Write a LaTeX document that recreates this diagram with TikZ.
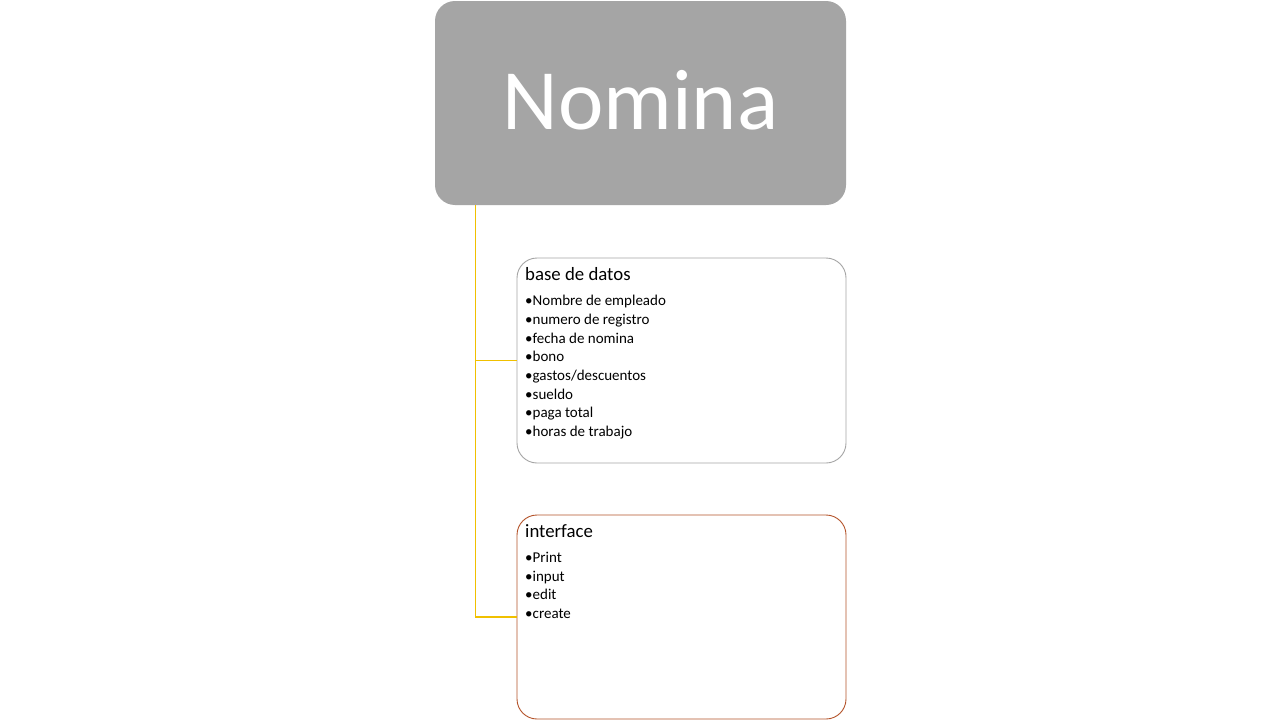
\documentclass[tikz,border=0pt]{standalone}
\usepackage{fontspec}
\setmainfont{Carlito}
\definecolor{maingray}{HTML}{A5A5A5}
\definecolor{linegold}{HTML}{F0C000}
\definecolor{boxgray}{HTML}{A5A5A5}
\definecolor{boxbrown}{HTML}{B4532A}
\begin{document}
\begin{tikzpicture}[x=1pt,y=-1pt,
  mainbox/.style={fill=maingray,draw=none,rounded corners=20pt,minimum width=411pt,minimum height=204pt,inner sep=0pt},
  subbox/.style={fill=white,line width=0.9pt,rounded corners=20pt,minimum width=329pt,inner sep=0pt},
  conn/.style={draw=linegold,line width=1.6pt},
  ttl/.style={anchor=base west,inner sep=0pt,font=\fontsize{18.8}{22}\selectfont},
  items/.style={anchor=north west,inner sep=0pt,align=left,font=\fontsize{15}{18.7}\selectfont}]
\path[use as bounding box,fill=white] (0,0) rectangle (1280,720);
\node[mainbox] (main) at (640.5,103) {};
\node[text=white,font=\fontsize{86}{100}\selectfont,inner sep=0pt] (maint) at (640.5,100) {Nomina};
\node[subbox,draw=boxgray,minimum height=205pt] (db) at (681.5,360.5) {};
\node[subbox,draw=boxbrown,minimum height=204pt] (ui) at (681.5,617) {};
\coordinate (sp) at (475.5,205);
\draw[conn] (sp) |- (ui.west);
\draw[conn] (sp |- db.west) -- (db.west);
\node[ttl] (dbt) at (525,280) {base de datos};
\node[items] (dbi) at (525,295) {•Nombre de empleado\\•numero de registro\\•fecha de nomina\\•bono\\•gastos/descuentos\\•sueldo\\•paga total\\•horas de trabajo};
\node[ttl] (uit) at (525,537) {interface};
\node[items] (uii) at (525,552) {•Print\\•input\\•edit\\•create};
\end{tikzpicture}
\end{document}
